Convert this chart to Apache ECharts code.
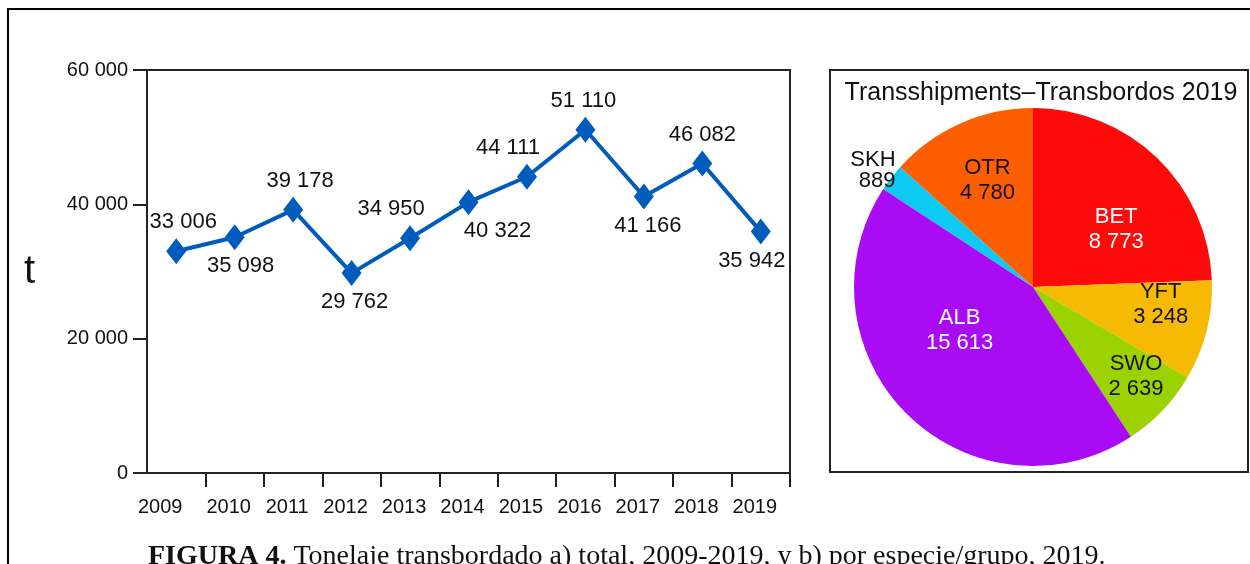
<!DOCTYPE html>
<html>
<head>
<meta charset="utf-8">
<title>Transbordos</title>
<script src="https://cdn.jsdelivr.net/npm/echarts@6/dist/echarts.min.js"></script>
<style>
  html, body { margin: 0; padding: 0; background: #fff; }
  #chart { width: 1250px; height: 564px; }
</style>
</head>
<body>
<div id="chart"></div>
<script>
// a) total transshipped, 2009-2019
const years = ['2009', '2010', '2011', '2012', '2013', '2014', '2015', '2016', '2017', '2018', '2019']
const tonnage = [33006, 35098, 39178, 29762, 34950, 40322, 44111, 51110, 41166, 46082, 35942]
const yTicks = [0, 20000, 40000, 60000]

// b) by species/group, 2019 (clockwise from 12 o'clock)
const species = ['BET', 'YFT', 'SWO', 'ALB', 'SKH', 'OTR']
const speciesTons = [8773, 3248, 2639, 15613, 889, 4780]

const FONT = 'Liberation Sans, Arial, sans-serif'
const SERIF = 'Liberation Serif, Times New Roman, serif'
const fmt = v => String(v).replace(/\B(?=(\d{3})+(?!\d))/g, ' ')

// label placement for each year point: above / below, plus a small nudge
const labelPos = ['top', 'bottom', 'top', 'bottom', 'top', 'bottom', 'top', 'top', 'bottom', 'top', 'bottom']
const labelDx = [7, 6, 7, 3, -19, 29, -19, -2, 4, 0, -9]

const sliceColors = {
  BET: '#fe0a0a', YFT: '#f6b904', SWO: '#9bd200', ALB: '#a90bf5', SKH: '#0ec9f1', OTR: '#fe5e02'
}
const whiteLabels = ['BET', 'ALB']
// nudges for the slice labels
const sliceOffset = {
  BET: [19, 9], YFT: [38, -5], SWO: [36, 26], ALB: [-8, -22], SKH: [14, -4], OTR: [-8, -22]
}

const chart = echarts.init(document.getElementById('chart'))

chart.setOption({
  animation: false,
  backgroundColor: '#fff',
  textStyle: { fontFamily: FONT },
  title: [{
    text: 'Transshipments\u2013Transbordos 2019',
    left: 1036,
    top: 76,
    textAlign: 'center',
    textStyle: { fontFamily: FONT, fontSize: 25, fontWeight: 'normal', color: '#111' }
  }, {
    text: '{b|FIGURA 4.} Tonelaje transbordado a) total, 2009-2019, y b) por especie/grupo, 2019.',
    left: 148,
    top: 543,
    padding: 0,
    textStyle: {
      fontFamily: SERIF,
      fontSize: 28,
      fontWeight: 'normal',
      color: '#111',
      rich: {
        b: { fontFamily: SERIF, fontSize: 28, fontWeight: 'bold', color: '#111' }
      }
    }
  }],
  graphic: [{
    type: 'rect',
    shape: { x: 8, y: 9, width: 1270, height: 600 },
    style: { fill: null, stroke: '#000', lineWidth: 2 },
    silent: true
  }, {
    type: 'rect',
    shape: { x: 830, y: 70, width: 418, height: 402 },
    style: { fill: null, stroke: '#222', lineWidth: 2 },
    silent: true
  }],
  grid: {
    left: 147,
    top: 70,
    width: 643,
    height: 403,
    show: true,
    borderColor: '#222',
    borderWidth: 2,
    backgroundColor: 'transparent'
  },
  xAxis: {
    type: 'category',
    data: years.map((y, i) => i === 0 ? { value: y, textStyle: { padding: [0, 32, 0, 0] } } : y),
    boundaryGap: true,
    axisLine: { lineStyle: { color: '#222', width: 2 } },
    axisTick: {
      show: true,
      length: 14,
      alignWithLabel: false,
      interval: (i) => i !== 0,
      lineStyle: { color: '#222', width: 2 }
    },
    axisLabel: { margin: 24, fontSize: 20, color: '#111', padding: [0, 12, 0, 0], interval: 0 },
    splitLine: { show: false }
  },
  yAxis: {
    type: 'value',
    min: yTicks[0],
    max: yTicks[yTicks.length - 1],
    interval: yTicks[1] - yTicks[0],
    name: 't',
    nameLocation: 'middle',
    nameRotate: 0,
    nameGap: 112,
    nameTextStyle: { fontSize: 40, color: '#111', fontFamily: FONT },
    axisLine: { show: true, lineStyle: { color: '#222', width: 2 } },
    axisTick: { show: true, length: 14, lineStyle: { color: '#222', width: 2 } },
    axisLabel: { margin: 19, fontSize: 20, color: '#111', formatter: fmt },
    splitLine: { show: false }
  },
  series: [{
    type: 'line',
    data: tonnage.map((v, i) => ({
      value: v,
      label: { position: labelPos[i], offset: [labelDx[i], 0] }
    })),
    symbol: 'diamond',
    symbolSize: [20, 26],
    lineStyle: { color: '#005cbc', width: 4 },
    itemStyle: { color: '#005cbc' },
    label: {
      show: true,
      fontSize: 22,
      color: '#111',
      distance: 5,
      formatter: p => fmt(p.value)
    }
  }, {
    type: 'pie',
    center: [1033, 287],
    radius: 179,
    startAngle: 90,
    clockwise: true,
    avoidLabelOverlap: false,
    silent: true,
    label: {
      show: true,
      position: 'inside',
      fontSize: 22,
      lineHeight: 25,
      color: '#111',
      formatter: p => p.name + '\n' + fmt(p.value)
    },
    labelLine: { show: false },
    data: species.map((s, i) => {
      const item = {
        name: s,
        value: speciesTons[i],
        itemStyle: { color: sliceColors[s] },
        label: { color: whiteLabels.includes(s) ? '#fff' : '#111', offset: sliceOffset[s] }
      }
      if (s === 'SKH') {
        item.label.position = 'outside'
        item.label.lineHeight = 21
        item.labelLine = { show: false, length: 6, length2: 0 }
      }
      return item
    })
  }]
})
</script>
</body>
</html>
